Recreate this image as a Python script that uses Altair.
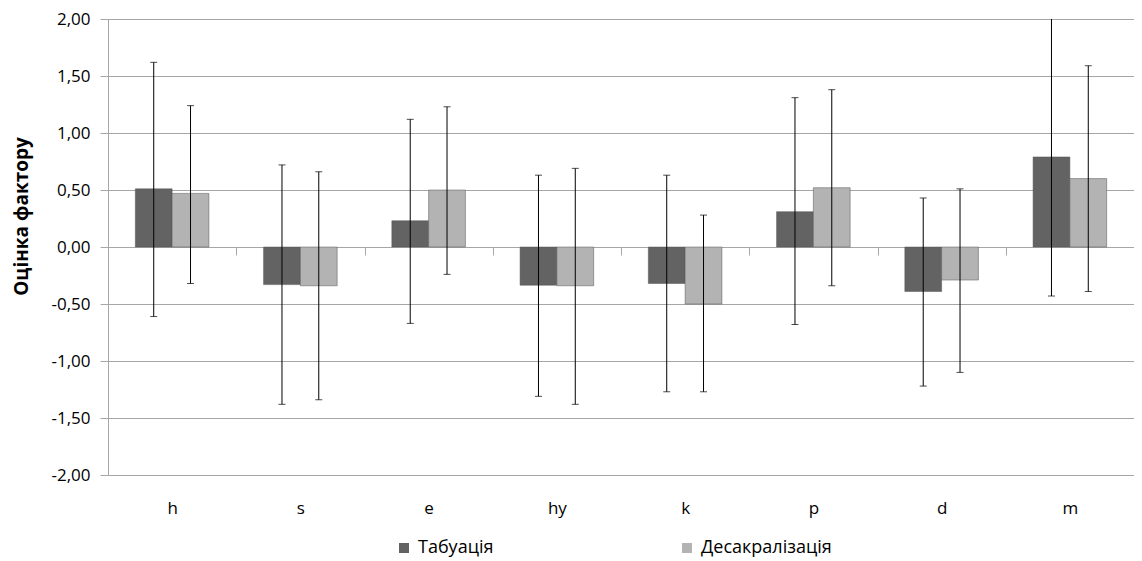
import altair as alt
import pandas as pd

categories = ["h", "s", "e", "hy", "k", "p", "d", "m"]
series_names = ["Табуація", "Десакралізація"]
tab_mean = [0.51, -0.33, 0.23, -0.335, -0.32, 0.31, -0.39, 0.79]
des_mean = [0.47, -0.34, 0.50, -0.34, -0.50, 0.52, -0.29, 0.60]
tab_hi = [1.62, 0.72, 1.12, 0.63, 0.63, 1.31, 0.43, 2.01]
tab_lo = [-0.61, -1.38, -0.67, -1.31, -1.27, -0.68, -1.22, -0.43]
des_hi = [1.24, 0.66, 1.23, 0.69, 0.28, 1.38, 0.51, 1.59]
des_lo = [-0.32, -1.34, -0.24, -1.38, -1.27, -0.34, -1.10, -0.39]
y_ticks = [-2.0, -1.5, -1.0, -0.5, 0.0, 0.5, 1.0, 1.5, 2.0]

rows = []
for i, c in enumerate(categories):
    rows.append({"cat": c, "series": series_names[0], "mean": tab_mean[i], "lo": tab_lo[i], "hi": tab_hi[i]})
    rows.append({"cat": c, "series": series_names[1], "mean": des_mean[i], "lo": des_lo[i], "hi": des_hi[i]})
df = pd.DataFrame(rows)

FONT = "Open Sans"
GRID = "#a6a6a6"
PLOT_H = 456

x_enc = alt.X(
    "cat:N",
    sort=categories,
    scale=alt.Scale(paddingInner=0, paddingOuter=0),
    axis=alt.Axis(
        title=None,
        orient="bottom",
        offset=-PLOT_H / 2,
        tickBand="extent",
        tickSize=8,
        tickColor=GRID,
        domainColor=GRID,
        labelPadding=245,
        labelAngle=0,
        grid=False,
        labelFontSize=17,
        labelFont=FONT,
        labelColor="#000000",
    ),
)
xo_enc = alt.XOffset("series:N", sort=series_names,
                     scale=alt.Scale(domain=series_names, paddingInner=0, paddingOuter=0.743))
y_scale = alt.Scale(domain=[-2, 2], nice=False)

bars = alt.Chart(df).mark_bar(stroke="#555555", strokeWidth=0.5).encode(
    x=x_enc,
    xOffset=xo_enc,
    y=alt.Y(
        "mean:Q",
        scale=y_scale,
        axis=alt.Axis(
            values=y_ticks,
            labelExpr="replace(replace(format(datum.value, '.2f'), '.', ','), '\u2212', '-')",
            tickSize=8,
            tickColor=GRID,
            domainColor=GRID,
            gridColor=GRID,
            grid=True,
            title="Оцінка фактору",
            titleFontSize=19,
            titleFontWeight="bold",
            titleFont=FONT,
            titleColor="#000000",
            titlePadding=19,
            titleY=197,
            labelFontSize=17,
            labelFont=FONT,
            labelColor="#000000",
            labelPadding=10,
        ),
    ),
    color=alt.Color(
        "series:N",
        sort=series_names,
        scale=alt.Scale(domain=series_names, range=["#636363", "#b3b3b3"]),
        legend=alt.Legend(
            title=None,
            orient="none",
            legendX=287,
            legendY=520,
            direction="horizontal",
            symbolType="square",
            symbolSize=100,
            symbolStrokeWidth=0,
            labelFontSize=18,
            labelFont=FONT,
            labelColor="#000000",
            labelOffset=5,
            columnPadding=184,
            padding=0,
        ),
    ),
)

rules = alt.Chart(df).mark_rule(color="#000000", strokeWidth=1, clip=True).encode(
    x=alt.X("cat:N", sort=categories),
    xOffset=xo_enc,
    y=alt.Y("lo:Q", scale=y_scale),
    y2="hi:Q",
)
cap_lo = alt.Chart(df).mark_tick(color="#000000", orient="horizontal", size=7, thickness=1, clip=True).encode(
    x=alt.X("cat:N", sort=categories),
    xOffset=xo_enc,
    y=alt.Y("lo:Q", scale=y_scale),
)
cap_hi = alt.Chart(df).mark_tick(color="#000000", orient="horizontal", size=7, thickness=1, clip=True).encode(
    x=alt.X("cat:N", sort=categories),
    xOffset=xo_enc,
    y=alt.Y("hi:Q", scale=y_scale),
)

chart = alt.layer(bars, rules, cap_lo, cap_hi).properties(
    width=1026,
    height=PLOT_H,
    autosize=alt.AutoSizeParams(type="none"),
    padding={"left": 100, "top": 11, "right": 0, "bottom": 86},
    background="#ffffff",
).configure_view(stroke=None)

chart.save("out.html", embed_options={"renderer": "svg", "actions": False})
